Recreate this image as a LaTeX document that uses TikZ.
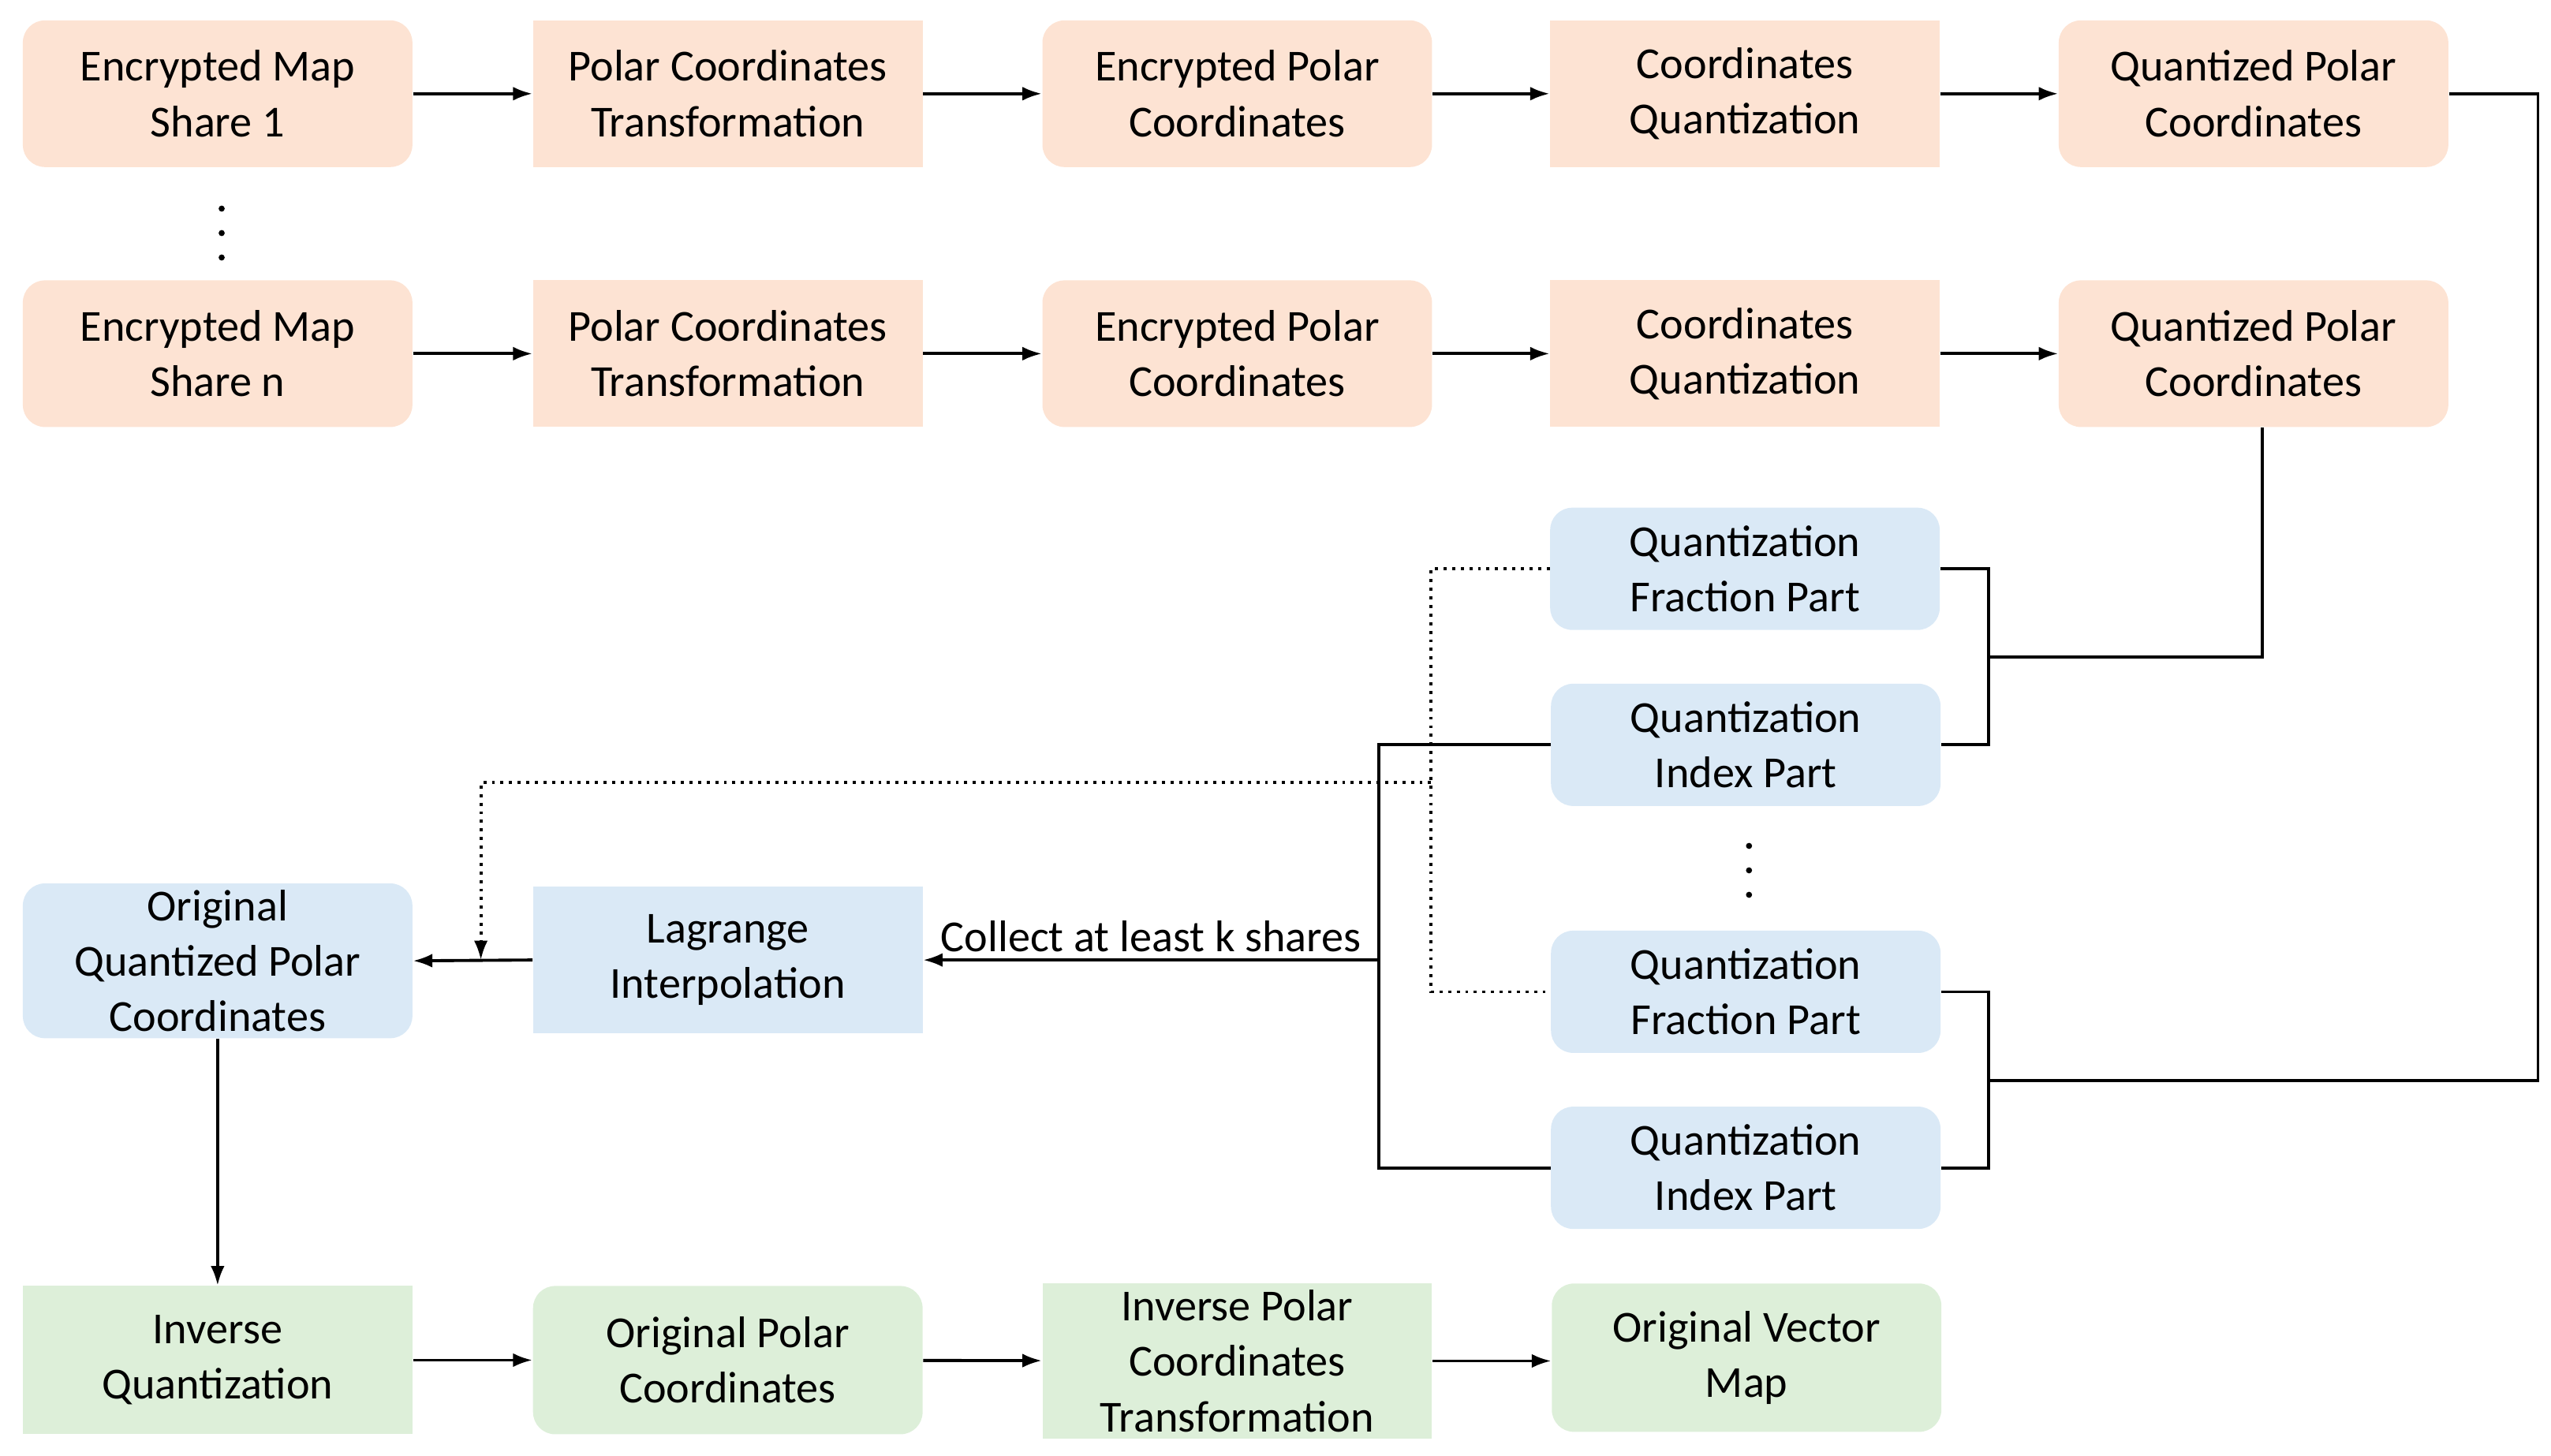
\documentclass[tikz,border=0pt]{standalone}
\usepackage{fontspec}
\setmainfont{Carlito}
\usetikzlibrary{arrows.meta}
\definecolor{orf}{HTML}{FDE3D3}
\definecolor{blf}{HTML}{DAE9F6}
\definecolor{grf}{HTML}{DDEFD9}
\begin{document}
\begin{tikzpicture}[x=0.02067cm,y=-0.02067cm,
 box/.style={minimum width=239*0.02067cm,minimum height=90*0.02067cm,align=center,font=\fontsize{16}{20}\selectfont,inner sep=0pt},
 rb/.style={box,rounded corners=8pt},
 sb/.style={box},
 arr/.style={-{Latex[length=7pt,width=5pt]},line width=1.1pt},
 ln/.style={line width=1.1pt},
 dt/.style={line width=1.1pt,dotted},
 vdot/.style={fill=black,circle,inner sep=0pt,minimum size=2.2pt}]
\useasboundingbox (0,0) rectangle (1565,893);
% row 1
\node[rb,fill=orf] (a1) at (133.5,57.5) {Encrypted Map\\Share 1};
\node[sb,fill=orf] (b1) at (446.5,57.5) {Polar Coordinates\\Transformation};
\node[rb,fill=orf] (c1) at (759,57.5) {Encrypted Polar\\Coordinates};
\node[sb,fill=orf] (d1) at (1070.5,57.5) {Coordinates\\Quantization};
\node[rb,fill=orf] (e1) at (1382.5,57.5) {Quantized Polar\\Coordinates};
% row n
\node[rb,fill=orf] (a2) at (133.5,217) {Encrypted Map\\Share n};
\node[sb,fill=orf] (b2) at (446.5,217) {Polar Coordinates\\Transformation};
\node[rb,fill=orf] (c2) at (759,217) {Encrypted Polar\\Coordinates};
\node[sb,fill=orf] (d2) at (1070.5,217) {Coordinates\\Quantization};
\node[rb,fill=orf] (e2) at (1382.5,217) {Quantized Polar\\Coordinates};
\foreach \i in {1,2}{
 \draw[arr] (a\i) -- (b\i); \draw[arr] (b\i) -- (c\i);
 \draw[arr] (c\i) -- (d\i); \draw[arr] (d\i) -- (e\i);}
\foreach \yy/\n in {128/p1,143/p2,158/p3}{\node[vdot] (\n) at (136,\yy) {};}
% blue
\node[rb,fill=blf,minimum height=75*0.02067cm] (f1) at (1070.5,349) {Quantization\\Fraction Part};
\node[rb,fill=blf,minimum height=75*0.02067cm] (i1) at (1071,457) {Quantization\\Index Part};
\node[rb,fill=blf,minimum height=75*0.02067cm] (f2) at (1071,608.5) {Quantization\\Fraction Part};
\node[rb,fill=blf,minimum height=75*0.02067cm] (i2) at (1071,716.5) {Quantization\\Index Part};
\foreach \yy/\n in {519/q1,534/q2,549/q3}{\node[vdot] (\n) at (1073,\yy) {};}
\node[rb,fill=blf,minimum height=95*0.02067cm] (oq) at (133.5,589.5) {Original\\Quantized Polar\\Coordinates};
\node[sb,fill=blf] (lg) at (446.5,589) {Lagrange\\Interpolation};
% green
\node[sb,fill=grf,minimum height=91*0.02067cm] (g1) at (133.5,834.5) {Inverse\\Quantization};
\node[rb,fill=grf,minimum height=91*0.02067cm] (g2) at (446.5,834.5) {Original Polar\\Coordinates};
\node[sb,fill=grf,minimum height=95*0.02067cm] (g3) at (759,835) {Inverse Polar\\Coordinates\\Transformation};
\node[rb,fill=grf,minimum height=91*0.02067cm] (g4) at (1071.5,833) {Original Vector\\Map};
\draw[arr] (g1) -- (g2); \draw[arr] (g2) -- (g3); \draw[arr] (g3.east) -- (g4.west|-g3.east);
\draw[arr] (oq) -- (g1);
% brackets
\coordinate (k1) at (1220,403);
\coordinate (k2) at (1220,663);
\draw[ln] (f1.east) -| (k1) |- (i1.east);
\draw[ln] (f2.east) -| (k2) |- (i2.east);
\draw[ln] (e1.east) -- (1557,57.5) |- (k2);
\draw[ln] (e2.south-|1388,0) |- (k1);
% index lines
\coordinate (m) at (846,589);
\draw[ln] (i1.west) -- (846,457) |- (i2.west);
\draw[arr] (m) -- (lg.east) node[midway,above=-1pt,font=\fontsize{16}{19}\selectfont] {Collect at least k shares};
% dotted
\coordinate (dd) at (295,589);
\draw[dt] (f1.west) -- (878,349) |- (f2.west);
\draw[dt,-{Latex[length=7pt,width=5pt]}] (878,480) -| (dd);
\draw[arr] (lg.west) -- (oq.east);
\end{tikzpicture}
\end{document}
